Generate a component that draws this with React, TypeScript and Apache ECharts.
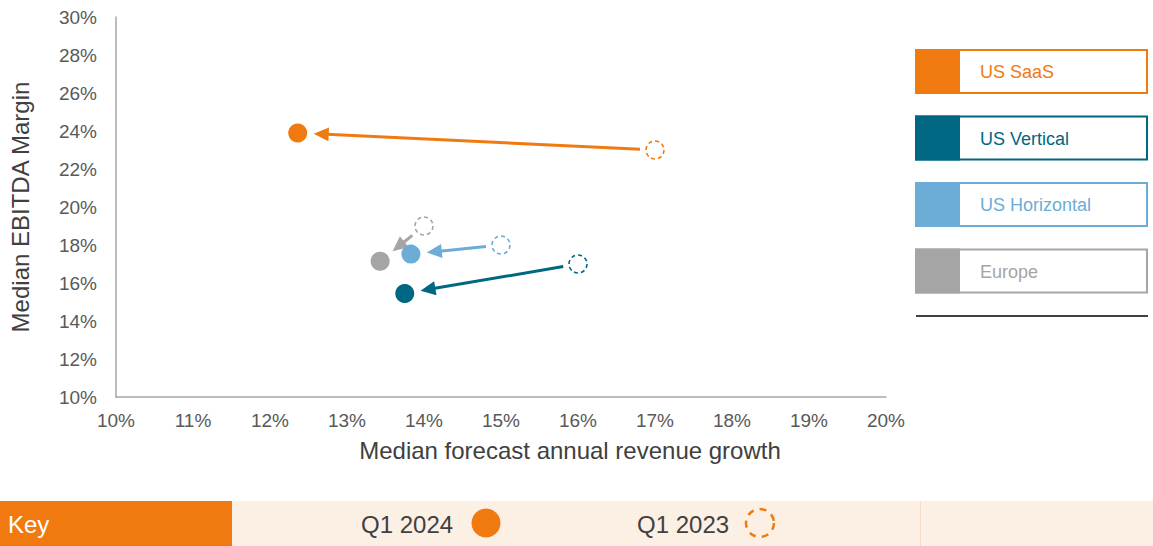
import React, { useEffect, useRef } from "react";
import * as echarts from "echarts";

const segments = ["US SaaS", "US Vertical", "US Horizontal", "Europe"];
const colors = ["#F07A10", "#006783", "#6BADD6", "#A5A5A5"];
const growth2024 = [12.36, 13.75, 13.83, 13.43];
const margin2024 = [23.9, 15.45, 17.52, 17.15];
const growth2023 = [17.0, 16.0, 15.0, 14.0];
const margin2023 = [23.0, 17.0, 18.0, 19.0];
const keyLabels = ["Q1 2024", "Q1 2023"];

const FONT = "Liberation Sans, Arial, sans-serif";

export default function App() {
  const ref = useRef<HTMLDivElement>(null);
  useEffect(() => {
    const chart = echarts.init(ref.current!, null, { renderer: "svg" });

    const filled = segments.map((s, i) => ({
      value: [growth2024[i], margin2024[i]],
      itemStyle: { color: colors[i], opacity: 1 },
    }));
    const dashed = segments.map((s, i) => ({
      value: [growth2023[i], margin2023[i]],
      itemStyle: { color: "#ffffff", opacity: 1, borderColor: colors[i], borderWidth: 1.6, borderType: [4, 3] },
    }));
    const arrows = segments.map((s, i) => [growth2023[i], margin2023[i], growth2024[i], margin2024[i], i]);

    const legendItems: any[] = [];
    segments.forEach((s, i) => {
      const top = 50 + i * 66.5;
      legendItems.push(
        { type: "rect", shape: { x: 916, y: top, width: 231, height: 43 }, style: { fill: "#fff", stroke: colors[i], lineWidth: 2 } },
        { type: "rect", shape: { x: 915, y: top - 1, width: 45, height: 45 }, style: { fill: colors[i] } },
        { type: "text", x: 980, y: top + 22, style: { text: s, fill: colors[i], font: `18px ${FONT}`, verticalAlign: "middle" } }
      );
    });
    legendItems.push({ type: "line", shape: { x1: 916, y1: 316, x2: 1148, y2: 316 }, style: { stroke: "#404040", lineWidth: 2 } });

    const keyItems: any[] = [
      { type: "rect", shape: { x: 232, y: 501, width: 921, height: 45 }, style: { fill: "#FCEFE4" } },
      { type: "line", shape: { x1: 920.5, y1: 501, x2: 920.5, y2: 546 }, style: { stroke: "#F3DCC8", lineWidth: 1 } },
      { type: "rect", shape: { x: 0, y: 501, width: 232, height: 45 }, style: { fill: "#F07A10" } },
      { type: "text", x: 8, y: 524, style: { text: "Key", fill: "#fff", font: `24px ${FONT}`, verticalAlign: "middle" } },
      { type: "text", x: 361, y: 524, style: { text: keyLabels[0], fill: "#404040", font: `24px ${FONT}`, verticalAlign: "middle" } },
      { type: "circle", shape: { cx: 486, cy: 523, r: 14.5 }, style: { fill: "#F07A10" } },
      { type: "text", x: 637, y: 524, style: { text: keyLabels[1], fill: "#404040", font: `24px ${FONT}`, verticalAlign: "middle" } },
      { type: "circle", shape: { cx: 760, cy: 523, r: 14 }, style: { fill: "none", stroke: "#F07A10", lineWidth: 2.5, lineDash: [7, 6] } },
    ];

    chart.setOption({
      animation: false,
      grid: { left: 116, top: 17, right: 267, bottom: 149 },
      xAxis: {
        type: "value",
        min: 10,
        max: 20,
        interval: 1,
        name: "Median forecast annual revenue growth",
        nameLocation: "middle",
        nameGap: 41,
        nameTextStyle: { fontFamily: FONT, fontSize: 24, color: "#404040", padding: [0, 0, 0, 138] },
        axisLine: { show: true, lineStyle: { color: "#A6A6A6", width: 1.5 } },
        axisTick: { show: false },
        splitLine: { show: false },
        axisLabel: { formatter: "{value}%", fontFamily: FONT, fontSize: 19, color: "#595959", margin: 14 },
      },
      yAxis: {
        type: "value",
        min: 10,
        max: 30,
        interval: 2,
        name: "Median EBITDA Margin",
        nameLocation: "middle",
        nameGap: 84,
        nameTextStyle: { fontFamily: FONT, fontSize: 24, color: "#404040" },
        axisLine: { show: true, lineStyle: { color: "#A6A6A6", width: 1.5 } },
        axisTick: { show: false },
        splitLine: { show: false },
        axisLabel: { formatter: "{value}%", fontFamily: FONT, fontSize: 19, color: "#595959", margin: 19 },
      },
      series: [
        {
          type: "custom",
          data: arrows,
          renderItem: (params: any, api: any) => {
            const p0 = api.coord([api.value(0), api.value(1)]);
            const p1 = api.coord([api.value(2), api.value(3)]);
            const c = colors[api.value(4)];
            const dx = p1[0] - p0[0];
            const dy = p1[1] - p0[1];
            const len = Math.sqrt(dx * dx + dy * dy);
            const ux = dx / len;
            const uy = dy / len;
            const start = [p0[0] + ux * 15, p0[1] + uy * 15];
            const tip = [p1[0] - ux * 16, p1[1] - uy * 16];
            const headLen = 15;
            const headW = 7;
            const base = [tip[0] - ux * headLen, tip[1] - uy * headLen];
            const px = -uy;
            const py = ux;
            return {
              type: "group",
              children: [
                { type: "line", shape: { x1: start[0], y1: start[1], x2: base[0] + ux * 2, y2: base[1] + uy * 2 }, style: { stroke: c, lineWidth: 3 } },
                {
                  type: "polygon",
                  shape: {
                    points: [
                      tip,
                      [base[0] + px * headW, base[1] + py * headW],
                      [base[0] - px * headW, base[1] - py * headW],
                    ],
                  },
                  style: { fill: c },
                },
              ],
            };
          },
          z: 2,
        },
        { type: "scatter", data: filled, symbolSize: 19, z: 3 },
        { type: "scatter", data: dashed, symbolSize: 18, z: 3 },
      ],
      graphic: [...legendItems, ...keyItems],
    });
    return () => chart.dispose();
  }, []);
  return <div ref={ref} style={{ position: "fixed", left: 0, top: 0, width: 1153, height: 546, background: "#fff" }} />;
}
